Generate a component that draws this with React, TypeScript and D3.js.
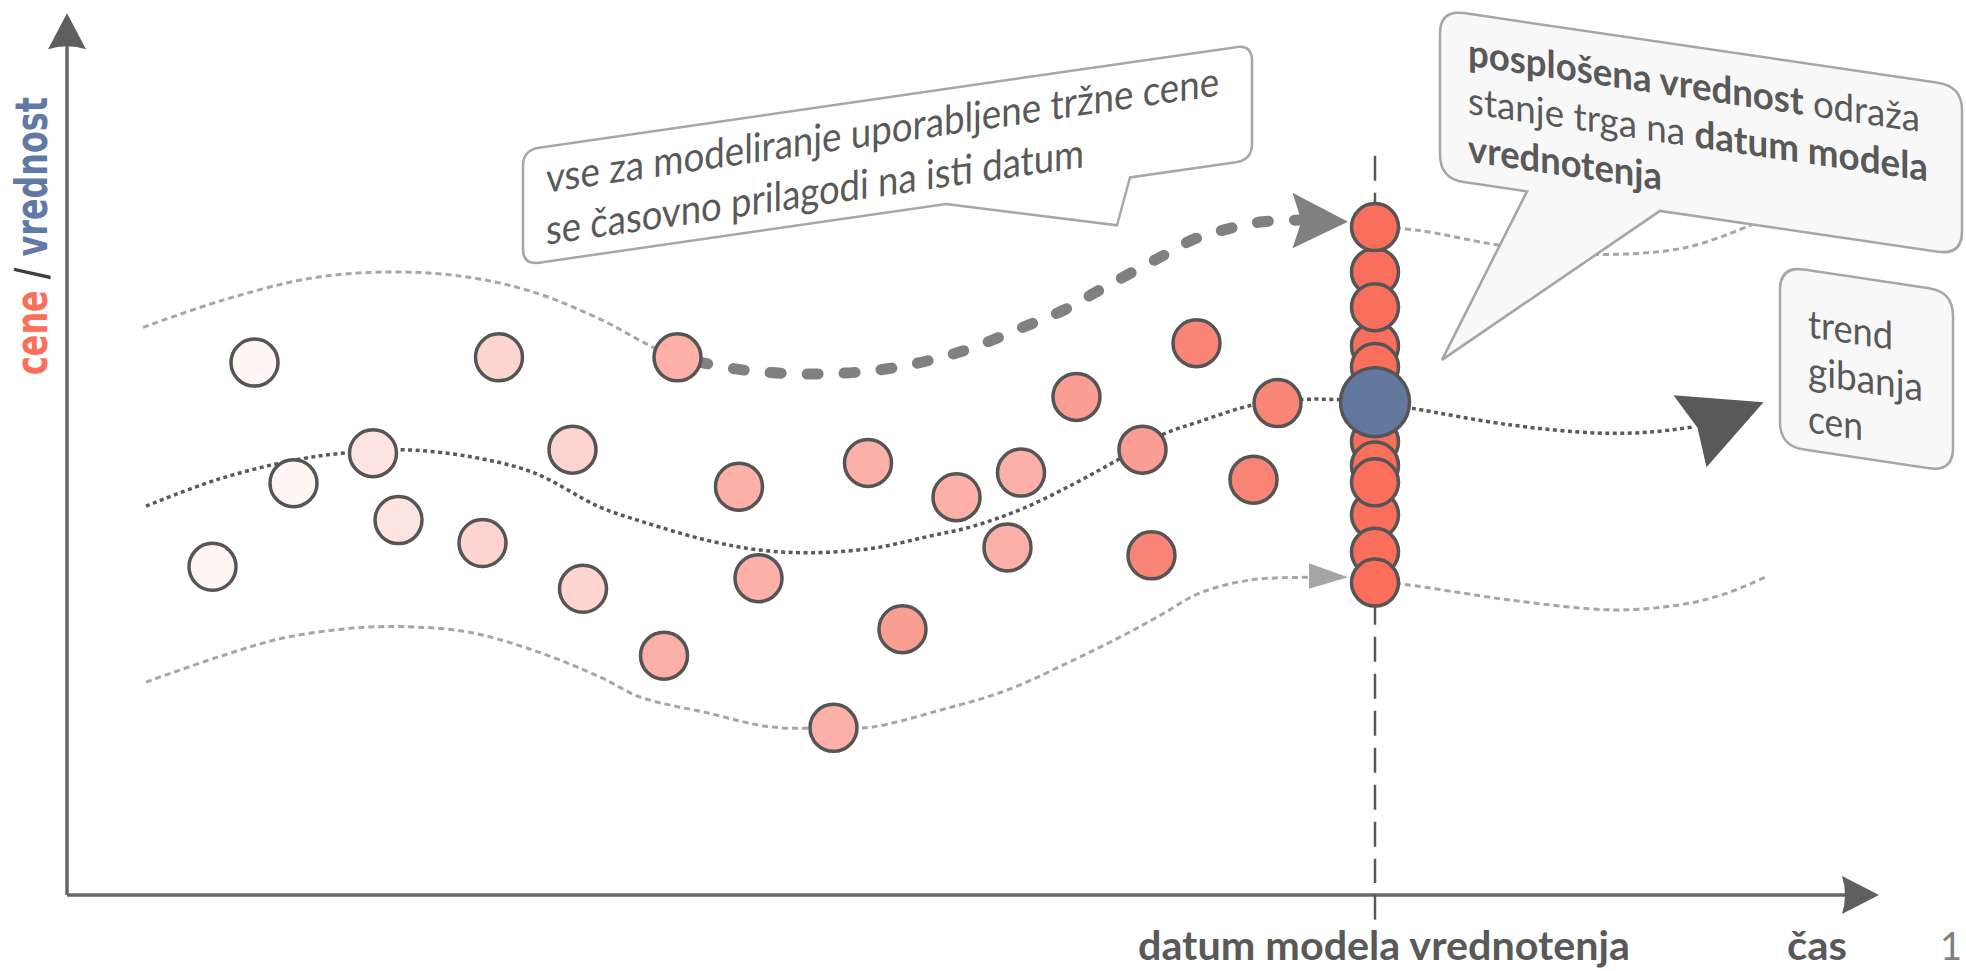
import React from 'react';
import * as d3 from 'd3';

type P = [number, number];

// ---------- data (time in months, price index) ----------
const priceTimes = [9.7, 12.5, 15.1, 20.4, 22.1, 27.7, 28.8, 33.7, 34.4, 39.8, 40.7, 44.8, 46.1, 51.1, 53.4, 55.7, 59.3, 62.7, 63.6, 67.3, 71.7, 72.3, 75.3, 79.1, 80.7];
const priceValues = [37.3, 60.5, 46.8, 50.2, 42.6, 40.0, 61.1, 50.6, 34.8, 27.2, 61.1, 46.4, 36.0, 19.0, 49.1, 30.2, 45.2, 39.5, 48.0, 56.6, 50.6, 38.6, 62.7, 47.2, 55.9];
const priceAgeLevels = [0, 0, 0, 1, 1, 2, 2, 2, 2, 3, 3, 3, 3, 3, 3, 4, 3, 3, 3, 4, 4, 5, 5, 5, 5];
const agePalette = ['#fff5f3', '#fee4e0', '#fdd4ce', '#fcb0a7', '#fa9d92', '#f98576', '#f96f5b'];

const valuationDate = 87.2;
const adjustedValues = [70.8, 62.4, 75.9, 66.8, 60.0, 51.5, 48.8, 43.2, 46.9, 39.0, 35.5];
const generalValue = 56.0;

const upperBandLeft: P[] = [[5.07, 64.5], [10.4, 67.6], [16.3, 70.1], [21.7, 70.8], [26.8, 70.2], [31.3, 68.4], [35.7, 65.3], [39.0, 62.3], [40.7, 61.1]];
const upperBandRight: P[] = [[87.2, 75.9], [90.2, 75.5], [95.3, 73.9], [101.7, 72.8], [108.0, 73.6], [112.5, 76.3]];
const trendLeft: P[] = [[5.27, 44.2], [10.0, 47.2], [15.1, 49.4], [18.9, 50.3], [22.4, 50.6], [26.9, 49.8], [31.1, 48.0], [35.5, 44.1], [38.4, 42.4], [42.7, 40.3], [46.2, 39.2], [49.7, 38.9], [53.7, 39.4], [57.3, 40.7], [60.4, 41.9], [63.7, 43.9], [67.1, 46.7], [70.0, 49.4], [73.0, 52.3], [75.5, 53.8], [79.1, 55.7], [82.2, 56.3], [84.7, 56.3], [87.2, 56.0]];
const trendRight: P[] = [[87.2, 56.0], [89.7, 55.3], [96.3, 53.4], [102.0, 52.5], [105.5, 52.6], [108.5, 53.2]];
const lowerBandLeft: P[] = [[5.27, 24.2], [10.0, 27.0], [14.4, 29.2], [18.9, 30.3], [22.2, 30.5], [26.7, 29.9], [31.1, 27.8], [35.5, 24.8], [38.2, 22.5], [42.7, 20.7], [46.9, 19.1], [51.1, 19.0], [53.7, 19.1], [58.2, 21.0], [62.7, 23.3], [67.1, 26.7], [70.2, 29.3], [72.9, 31.8], [75.5, 34.3], [78.9, 35.8], [82.8, 36.1]];
const lowerBandRight: P[] = [[87.2, 35.5], [89.1, 35.3], [96.3, 33.5], [103.1, 32.4], [107.6, 33.0], [110.5, 34.2], [113.2, 36.1]];
const adjustmentPath: P[] = [[40.7, 61.1], [44.9, 59.7], [49.7, 59.2], [54.7, 59.8], [59.5, 61.7], [64.0, 64.7], [66.5, 66.5], [68.9, 68.8], [72.9, 72.5], [75.1, 74.5], [77.4, 75.7], [79.7, 76.5], [82.2, 76.7]];

const adjustmentHead: P[] = [[81.7, 79.8], [85.4, 76.5], [81.7, 73.5], [82.3, 76.6]];
const lowerHead: P[] = [[82.8, 37.7], [85.4, 36.1], [82.8, 34.8]];
const trendHead: P[] = [[107.1, 56.8], [113.1, 56.0], [109.3, 48.6], [108.7, 53.1]];

const axisTitleParts = ['cene', ' / ', 'vrednost'];
const xAxisLabel = 'čas';
const valuationLabel = 'datum modela vrednotenja';
const pageNumber = '1';
const bubble1Lines = ['vse za modeliranje uporabljene tržne cene', 'se časovno prilagodi na isti datum'];
const bubble2Lines: [string, boolean][][] = [
  [['posplošena vrednost', true], [' odraža', false]],
  [['stanje trga na ', false], ['datum modela', true]],
  [['vrednotenja', true]],
];
const bubble3Lines = ['trend', 'gibanja', 'cen'];

// ---------- layout ----------
const W = 1966;
const H = 971;
const x = d3.scaleLinear().domain([0, 120]).range([67, 1867]);
const y = d3.scaleLinear().domain([0, 100]).range([895, 15]);

const TEXT = '#595959';
const curve = d3.line<P>().x(d => x(d[0])).y(d => y(d[1])).curve(d3.curveCatmullRom.alpha(0.5));
const poly = (pts: P[]) => (d3.line<P>().x(d => x(d[0])).y(d => y(d[1]))(pts) || '') + 'Z';

function bubblePath(w: number, h: number, r: number, tail?: { x1: number; x2: number; tx: number; ty: number }) {
  let p = `M${r},0 L${w - r},0 Q${w},0 ${w},${r} L${w},${h - r} Q${w},${h} ${w - r},${h} `;
  if (tail) p += `L${tail.x2},${h} L${tail.tx},${tail.ty} L${tail.x1},${h} `;
  p += `L${r},${h} Q0,${h} 0,${h - r} L0,${r} Q0,0 ${r},0 Z`;
  return p;
}

export default function App() {
  const x0 = x(0);
  const y0 = y(0);
  const yTip = y(100.2);
  const xTip = x(120.8);
  const vx = x(valuationDate);
  const font = 'Lato, "Open Sans", sans-serif';

  return (
    <svg width={W} height={H} viewBox={`0 0 ${W} ${H}`} style={{ position: 'absolute', left: 0, top: 0, background: '#fff' }}>
      {/* axes */}
      <line x1={x0} y1={y0} x2={x0} y2={yTip + 30} stroke="#666" strokeWidth={3.5} />
      <line x1={x0} y1={y0} x2={xTip - 30} y2={y0} stroke="#666" strokeWidth={3.5} />
      <path d={`M${x0},${yTip} L${x0 + 19},${yTip + 36} Q${x0},${yTip + 30} ${x0 - 19},${yTip + 36} Z`} fill="#5f5f5f" />
      <path d={`M${xTip},${y0} L${xTip - 37},${y0 - 19} Q${xTip - 31},${y0} ${xTip - 37},${y0 + 19} Z`} fill="#5f5f5f" />

      {/* valuation date guide */}
      <line x1={vx} y1={y(84)} x2={vx} y2={y0 - 12} stroke="#595959" strokeWidth={2.5} strokeDasharray="25 12" />
      <line x1={vx} y1={y0} x2={vx} y2={y(-2.8)} stroke="#595959" strokeWidth={2.5} />

      {/* bands and trend */}
      {[upperBandLeft, upperBandRight, lowerBandLeft, lowerBandRight].map((d, i) => (
        <path key={'b' + i} d={curve(d) || ''} fill="none" stroke="#a6a6a6" strokeWidth={3} strokeDasharray="6 4" />
      ))}
      {[trendLeft, trendRight].map((d, i) => (
        <path key={'t' + i} d={curve(d) || ''} fill="none" stroke="#595959" strokeWidth={3.5} strokeDasharray="4 3.5" />
      ))}
      <path d={curve(adjustmentPath) || ''} fill="none" stroke="#808080" strokeWidth={11} strokeDasharray="11 26" strokeLinecap="round" strokeDashoffset={-20} />
      <path d={poly(adjustmentHead)} fill="#808080" />
      <path d={poly(lowerHead)} fill="#a6a6a6" />
      <path d={poly(trendHead)} fill="#595959" />

      {/* market prices */}
      {priceTimes.map((t, i) => (
        <circle key={'p' + i} cx={x(t)} cy={y(priceValues[i])} r={23.5} fill={agePalette[priceAgeLevels[i]]} stroke="#555" strokeWidth={3.5} />
      ))}
      {adjustedValues.map((v, i) => (
        <circle key={'a' + i} cx={vx} cy={y(v)} r={23.5} fill={agePalette[6]} stroke="#555" strokeWidth={3.5} />
      ))}
      <circle cx={vx} cy={y(generalValue)} r={34.5} fill="#62789e" stroke="#555" strokeWidth={3.5} />

      {/* bubble 1 */}
      <g transform="translate(523,150) skewY(-8.21)">
        <path d={bubblePath(729, 115, 16, { x1: 423, x2: 607, tx: 594, ty: 161 })} fill="#fff" stroke="#a6a6a6" strokeWidth={2.5} />
        {bubble1Lines.map((s, i) => (
          <text key={i} x={23} y={46 + i * 52} fontFamily={font} fontSize={41} fill={TEXT} textLength={i === 0 ? 673 : 538} lengthAdjust="spacingAndGlyphs">{s}</text>
        ))}
      </g>

      {/* bubble 2 */}
      <g transform="translate(1440,9.6) skewY(8.35)">
        <path d={bubblePath(522, 169, 24, { x1: 87, x2: 220, tx: 2, ty: 350 })} fill="#f8f8f8" stroke="#a6a6a6" strokeWidth={2.5} />
        {bubble2Lines.map((parts, i) => (
          <text key={i} x={28} y={52 + i * 48} fontFamily={font} fontSize={38} fill={TEXT} textLength={[452, 460, 194][i]} lengthAdjust="spacingAndGlyphs">
            {parts.map(([s, b], j) => (
              <tspan key={j} fontWeight={b ? 700 : 400}>{s}</tspan>
            ))}
          </text>
        ))}
      </g>

      {/* bubble 3 */}
      <g transform="translate(1780,266) skewY(8.5)">
        <path d={bubblePath(173, 180, 24)} fill="#f8f8f8" stroke="#a6a6a6" strokeWidth={2.5} />
        {bubble3Lines.map((s, i) => (
          <text key={i} x={28} y={[67, 114, 162][i]} fontFamily={font} fontSize={39} fill={TEXT} textLength={[85, 115, 55][i]} lengthAdjust="spacingAndGlyphs">{s}</text>
        ))}
      </g>

      {/* axis titles */}
      <text transform="translate(47,375) rotate(-90)" fontFamily='"DejaVu Sans", sans-serif' fontWeight={700} fontSize={45} textLength={278} lengthAdjust="spacingAndGlyphs">
        <tspan fill="#fa6e5a">{axisTitleParts[0]}</tspan>
        <tspan fill="#404040">{axisTitleParts[1]}</tspan>
        <tspan fill="#6279a6">{axisTitleParts[2]}</tspan>
      </text>
      <text x={1138} y={960} fontFamily={font} fontWeight={700} fontSize={41} fill={TEXT} textLength={492} lengthAdjust="spacingAndGlyphs">{valuationLabel}</text>
      <text x={1787} y={960} fontFamily={font} fontWeight={700} fontSize={41} fill={TEXT} textLength={60} lengthAdjust="spacingAndGlyphs">{xAxisLabel}</text>
      <text x={1940} y={960} fontFamily={font} fontSize={38} fill="#7f7f7f">{pageNumber}</text>
    </svg>
  );
}
